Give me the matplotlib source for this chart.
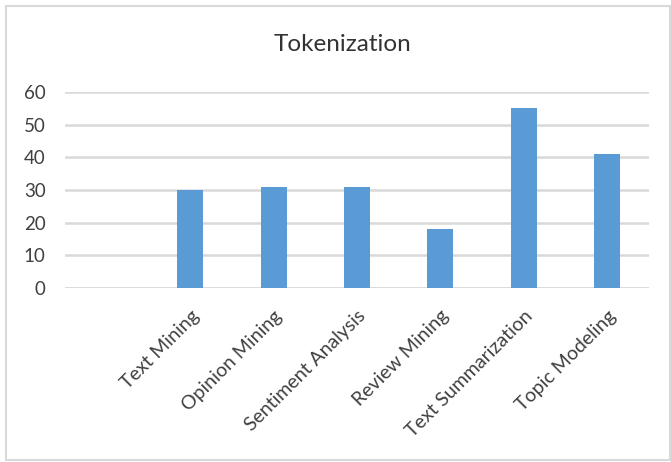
import matplotlib.pyplot as plt
import numpy as np
from matplotlib.patches import Rectangle

plt.rcParams['font.family'] = ['Lato', 'DejaVu Sans']

# first category is blank in the source sheet
categories = ['', 'Text Mining', 'Opinion Mining', 'Sentiment Analysis',
              'Review Mining', 'Text Summarization', 'Topic Modeling']
values = [0, 30, 31, 31, 18, 55, 41]
yticks = [0, 10, 20, 30, 40, 50, 60]

txt = '#404040'
grid = '#d9d9d9'
bar_col = '#5b9bd5'

fig = plt.figure(figsize=(6.71, 4.62), dpi=100)
ax = fig.add_axes([0.0969, 0.3766, 0.8703, 0.4243])

x = np.arange(len(categories))
ax.bar(x, values, width=0.31, color=bar_col, zorder=3)

ax.set_xlim(-0.5, len(categories) - 0.5)
ax.set_ylim(0, 60)
ax.set_yticks(yticks)
ax.yaxis.grid(True, color=grid, linewidth=1.8, zorder=0)
for s in ax.spines.values():
    s.set_visible(False)
ax.axhline(0, color=grid, linewidth=1.8, zorder=2)
ax.tick_params(axis='y', length=0, pad=14, labelsize=13.5, labelcolor=txt)
ax.tick_params(axis='x', length=0, pad=14)
ax.set_xticks(x)
ax.set_xticklabels(categories, rotation=45, ha='right', rotation_mode='anchor',
                   fontsize=14, color=txt)

fig.text(0.511, 0.903, 'Tokenization', ha='center', va='center',
         fontsize=17.5, color='#333333')

# light frame round the chart area
fig.patches.append(Rectangle((0.0082, 0.0054), 0.990, 0.9806, transform=fig.transFigure,
                             fill=False, edgecolor=grid, linewidth=1.5))

fig.savefig('out.png', dpi=100)
